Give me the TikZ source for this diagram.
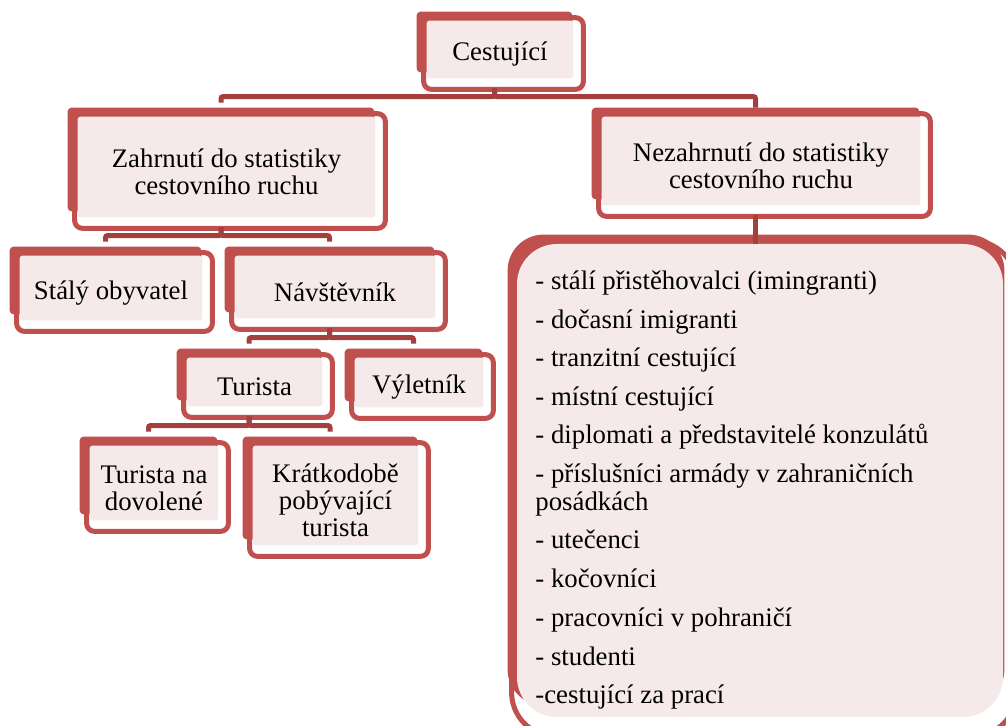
\documentclass[tikz,border=0pt]{standalone}
\usepackage{fontspec}
\setmainfont{Liberation Serif}
\usetikzlibrary{backgrounds}
\definecolor{boxred}{HTML}{C0504D}
\definecolor{boxpink}{HTML}{F6E9E9}
\definecolor{linkred}{HTML}{A3403D}

\tikzset{
  card/.style={inner sep=0pt, align=center, font=\fontsize{13.4}{13.5}\selectfont},
  listcard/.style={fill=boxpink, rounded corners=20pt, inner sep=0pt},
  conn/.style={draw=linkred, line width=2.5pt, rounded corners=1pt},
  itemtext/.style={anchor=base west, inner sep=0pt, font=\fontsize{13.4}{13.5}\selectfont},
}

\begin{document}
\begin{tikzpicture}[x=0.5pt, y=-0.5pt]
    \useasboundingbox (0,0) rectangle (1006,726);

    % --- 1. Krabice (text o 5px nize nez stred vyplne) ---
    \node[card, minimum width=73pt, minimum height=28.5pt] (cest) at (500,54.5) {Cestující};
    \node[card, minimum width=148.5pt, minimum height=50pt] (zahr) at (226.5,172) {Zahrnutí do statistiky\\cestovního ruchu};
    \node[card, minimum width=159pt, minimum height=44pt] (nezahr) at (761,166) {Nezahrnutí do statistiky\\cestovního ruchu};
    \node[card, minimum width=91pt, minimum height=32pt] (staly) at (111,293) {Stálý obyvatel};
    \node[card, minimum width=100pt, minimum height=31pt] (navst) at (335,292) {Návštěvník};
    \node[card, minimum width=67.5pt, minimum height=24pt] (turista) at (254.5,387) {Turista};
    \node[card, minimum width=64pt, minimum height=24.5pt] (vylet) at (419,387.5) {Výletník};
    \node[card, minimum width=64pt, minimum height=37pt] (dovol) at (154,488) {Turista na\\dovolené};
    \node[card, minimum width=82.5pt, minimum height=49.5pt] (kratk) at (335.5,500.5) {Krátkodobě\\pobývající\\turista};
    \node[listcard, minimum width=243pt, minimum height=236.5pt] (list) at (760,480.5) {};

    % Ramecky a vypln za krabicemi
    \begin{scope}[on background layer]
        \foreach \n in {cest,zahr,nezahr,staly,navst,turista,vylet,dovol,kratk} {
            \draw[boxred, line width=2.5pt, rounded corners=4pt] ([shift={(-3,-8)}]\n.north west) rectangle ([shift={(10,6)}]\n.south east);
            \fill[boxred, rounded corners=2pt] ([shift={(-10,-14)}]\n.north west) rectangle ([shift={(-1,-11)}]\n.south east);
            \fill[boxpink, rounded corners=1.5pt] ([shift={(0,-5)}]\n.north west) rectangle ([shift={(0,-5)}]\n.south east);
        }
        \draw[boxred, line width=2.5pt, rounded corners=22pt] ([shift={(-5,-3)}]list.north west) rectangle ([shift={(13,19)}]list.south east);
        \fill[boxred, rounded corners=18pt] ([shift={(-9,-9)}]list.north west) rectangle ([shift={(1,-12)}]list.south east);
    \end{scope}

    % --- 2. Spojnice ---
    \draw[conn] ([shift={(-5.5,5)}]cest.south) |- ([shift={(-5.5,-25)}]zahr.north) -- ([shift={(-5.5,-19)}]zahr.north);
    \draw[conn] ([shift={(-5.5,5)}]cest.south) |- ([shift={(-5.5,-25)}]nezahr.north) -- ([shift={(-5.5,-14)}]nezahr.north);
    \draw[conn] ([shift={(-5.5,5)}]zahr.south) |- ([shift={(-5.5,-25)}]staly.north) -- ([shift={(-5.5,-19)}]staly.north);
    \draw[conn] ([shift={(-5.5,5)}]zahr.south) |- ([shift={(-5.5,-25)}]navst.north) -- ([shift={(-5.5,-19)}]navst.north);
    \draw[conn] ([shift={(-5.5,5)}]navst.south) |- ([shift={(-5.5,-25)}]turista.north) -- ([shift={(-5.5,-19)}]turista.north);
    \draw[conn] ([shift={(-5.5,5)}]navst.south) |- ([shift={(-5.5,-25)}]vylet.north) -- ([shift={(-5.5,-19)}]vylet.north);
    \draw[conn] ([shift={(-5.5,5)}]turista.south) |- ([shift={(-5.5,-25)}]dovol.north) -- ([shift={(-5.5,-19)}]dovol.north);
    \draw[conn] ([shift={(-5.5,5)}]turista.south) |- ([shift={(-5.5,-25)}]kratk.north) -- ([shift={(-5.5,-19)}]kratk.north);
    \draw[conn] ([shift={(-5.5,5)}]nezahr.south) -- ([xshift=-2.75pt]nezahr.south |- list.north);

    % --- 3. Seznam nezahrnutych ---
    \foreach \yy/\itm [count=\i] in {290/{- stálí přistěhovalci (imingranti)}, 329/{- dočasní imigranti},
        367/{- tranzitní cestující}, 406/{- místní cestující}, 444/{- diplomati a představitelé konzulátů},
        483/{- příslušníci armády v zahraničních}, 510/{posádkách}, 549/{- utečenci}, 588/{- kočovníci},
        626/{- pracovníci v pohraničí}, 665/{- studenti}, 703/{-cestující za prací}}
        \node[itemtext] (it\i) at (535,\yy) {\itm};
\end{tikzpicture}
\end{document}
